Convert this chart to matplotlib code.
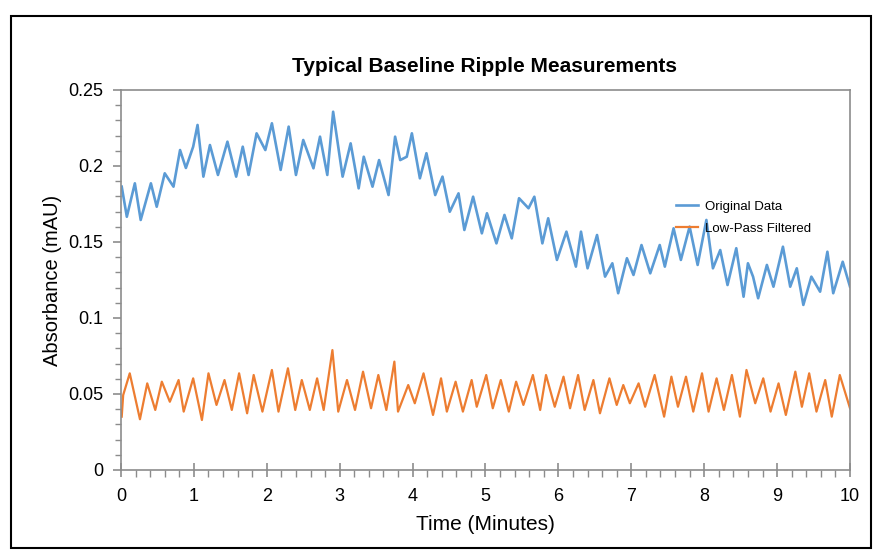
import matplotlib
matplotlib.use("Agg")
import matplotlib.pyplot as plt
from matplotlib.patches import Rectangle
from matplotlib.ticker import MultipleLocator

plt.rcParams['font.family'] = ['Liberation Sans', 'DejaVu Sans']

# Original (unfiltered) detector signal: time in minutes, absorbance in mAU
orig_t = [0.01, 0.08, 0.19, 0.27, 0.41, 0.49, 0.60, 0.72, 0.81, 0.89,
          0.99, 1.05, 1.13, 1.22, 1.33, 1.46, 1.58, 1.67, 1.75, 1.86,
          1.98, 2.07, 2.19, 2.30, 2.40, 2.50, 2.64, 2.73, 2.83, 2.91,
          3.04, 3.15, 3.26, 3.33, 3.45, 3.54, 3.67, 3.76, 3.83, 3.92,
          3.99, 4.10, 4.19, 4.31, 4.41, 4.51, 4.63, 4.71, 4.83, 4.95,
          5.02, 5.15, 5.26, 5.36, 5.46, 5.59, 5.67, 5.78, 5.86, 5.98,
          6.11, 6.24, 6.31, 6.40, 6.53, 6.64, 6.74, 6.82, 6.94, 7.03,
          7.14, 7.26, 7.39, 7.46, 7.58, 7.68, 7.80, 7.91, 8.03, 8.12,
          8.22, 8.32, 8.44, 8.54, 8.60, 8.67, 8.74, 8.86, 8.95, 9.08,
          9.18, 9.27, 9.36, 9.47, 9.59, 9.69, 9.77, 9.90, 10.0]
orig_v = [0.1864, 0.1666, 0.1886, 0.1645, 0.1886, 0.1732, 0.1952, 0.1864, 0.2105, 0.1987,
          0.2127, 0.2270, 0.1930, 0.2138, 0.1941, 0.2160, 0.1930, 0.2127, 0.1941, 0.2215,
          0.2105, 0.2281, 0.1974, 0.2259, 0.1941, 0.2171, 0.1985, 0.2193, 0.1941, 0.2357,
          0.1930, 0.2149, 0.1853, 0.2061, 0.1864, 0.2039, 0.1809, 0.2193, 0.2039, 0.2061,
          0.2215, 0.1919, 0.2084, 0.1809, 0.1930, 0.1699, 0.1820, 0.1579, 0.1798, 0.1557,
          0.1689, 0.1491, 0.1678, 0.1524, 0.1788, 0.1722, 0.1798, 0.1491, 0.1656, 0.1382,
          0.1568, 0.1338, 0.1568, 0.1327, 0.1546, 0.1272, 0.1360, 0.1163, 0.1393, 0.1283,
          0.1480, 0.1294, 0.1480, 0.1338, 0.1590, 0.1382, 0.1601, 0.1349, 0.1645, 0.1327,
          0.1447, 0.1217, 0.1459, 0.1140, 0.1360, 0.1272, 0.1130, 0.1349, 0.1206, 0.1469,
          0.1206, 0.1327, 0.1086, 0.1272, 0.1173, 0.1436, 0.1163, 0.1370, 0.1206]

# Low-pass filtered signal
filt_t = [0.01, 0.03, 0.12, 0.26, 0.36, 0.47, 0.56, 0.67, 0.79, 0.86,
          0.99, 1.11, 1.20, 1.31, 1.42, 1.52, 1.62, 1.73, 1.82, 1.94,
          2.07, 2.16, 2.29, 2.39, 2.48, 2.59, 2.69, 2.78, 2.90, 2.98,
          3.10, 3.21, 3.32, 3.43, 3.53, 3.64, 3.75, 3.80, 3.94, 4.03,
          4.15, 4.28, 4.39, 4.47, 4.59, 4.69, 4.81, 4.88, 5.01, 5.10,
          5.21, 5.32, 5.42, 5.52, 5.65, 5.75, 5.83, 5.95, 6.07, 6.16,
          6.27, 6.36, 6.48, 6.57, 6.70, 6.80, 6.89, 6.98, 7.10, 7.19,
          7.32, 7.45, 7.55, 7.64, 7.75, 7.85, 7.97, 8.06, 8.17, 8.27,
          8.38, 8.49, 8.58, 8.70, 8.81, 8.91, 9.02, 9.12, 9.25, 9.34,
          9.44, 9.54, 9.66, 9.75, 9.86, 10.0]
filt_v = [0.0351, 0.0493, 0.0636, 0.0334, 0.0570, 0.0395, 0.0581, 0.0449, 0.0592, 0.0384,
          0.0603, 0.0329, 0.0636, 0.0428, 0.0592, 0.0395, 0.0636, 0.0373, 0.0625, 0.0384,
          0.0658, 0.0384, 0.0669, 0.0395, 0.0592, 0.0395, 0.0603, 0.0395, 0.0789, 0.0384,
          0.0592, 0.0395, 0.0647, 0.0406, 0.0625, 0.0395, 0.0713, 0.0384, 0.0559, 0.0439,
          0.0636, 0.0362, 0.0603, 0.0384, 0.0581, 0.0384, 0.0592, 0.0416, 0.0625, 0.0406,
          0.0592, 0.0384, 0.0581, 0.0428, 0.0625, 0.0395, 0.0625, 0.0416, 0.0614, 0.0406,
          0.0625, 0.0395, 0.0592, 0.0373, 0.0603, 0.0428, 0.0559, 0.0439, 0.0570, 0.0416,
          0.0625, 0.0351, 0.0614, 0.0416, 0.0614, 0.0384, 0.0636, 0.0384, 0.0603, 0.0395,
          0.0625, 0.0351, 0.0658, 0.0439, 0.0603, 0.0384, 0.0570, 0.0362, 0.0647, 0.0416,
          0.0636, 0.0384, 0.0592, 0.0351, 0.0625, 0.0406]

x_ticks = [0, 1, 2, 3, 4, 5, 6, 7, 8, 9, 10]
y_ticks = [0, 0.05, 0.1, 0.15, 0.2, 0.25]
y_tick_labels = ['0', '0.05', '0.1', '0.15', '0.2', '0.25']

BLUE = '#5b9bd5'
ORANGE = '#ed7d31'
AXIS_GREY = '#8c8c8c'

fig = plt.figure(figsize=(8.78, 5.55), dpi=100)
ax = fig.add_axes([121 / 878, 1 - 470 / 555, 729 / 878, 380 / 555])

ax.plot(orig_t, orig_v, color=BLUE, lw=1.9, solid_joinstyle='round',
        label='Original Data')
ax.plot(filt_t, filt_v, color=ORANGE, lw=1.6, solid_joinstyle='round',
        label='Low-Pass Filtered')

ax.set_xlim(0, 10)
ax.set_ylim(0, 0.25)
ax.set_xticks(x_ticks)
ax.set_yticks(y_ticks)
ax.set_yticklabels(y_tick_labels)
ax.xaxis.set_minor_locator(MultipleLocator(0.2))
ax.yaxis.set_minor_locator(MultipleLocator(0.01))

for s in ax.spines.values():
    s.set_color(AXIS_GREY)
    s.set_linewidth(1.2)
ax.tick_params(axis='x', which='major', direction='inout', length=10, width=1.2,
               color=AXIS_GREY, labelsize=13, pad=8)
ax.tick_params(axis='x', which='minor', direction='out', length=5, width=1,
               color=AXIS_GREY)
ax.tick_params(axis='y', which='major', direction='out', length=6, width=1.2,
               color=AXIS_GREY, labelsize=13, pad=7)
ax.tick_params(axis='y', which='minor', direction='out', length=4, width=1,
               color=AXIS_GREY)

ax.set_xlabel('Time (Minutes)', fontsize=15, labelpad=7)
ax.set_ylabel('Absorbance (mAU)', fontsize=14.5, labelpad=4)
fig.text(485 / 878, 1 - 66 / 555, 'Typical Baseline Ripple Measurements',
         ha='center', va='center', fontsize=15, fontweight='bold')

ax.legend(loc='upper left', bbox_to_anchor=(0.745, 0.74), frameon=False,
          fontsize=9.5, handlelength=1.7, handletextpad=0.5, labelspacing=0.75)

fig.patches.append(Rectangle((11 / 878, 1 - 548 / 555), 860 / 878, 532 / 555,
                             transform=fig.transFigure, fill=False,
                             edgecolor='black', linewidth=1.5))

fig.savefig('out.png', dpi=100)
